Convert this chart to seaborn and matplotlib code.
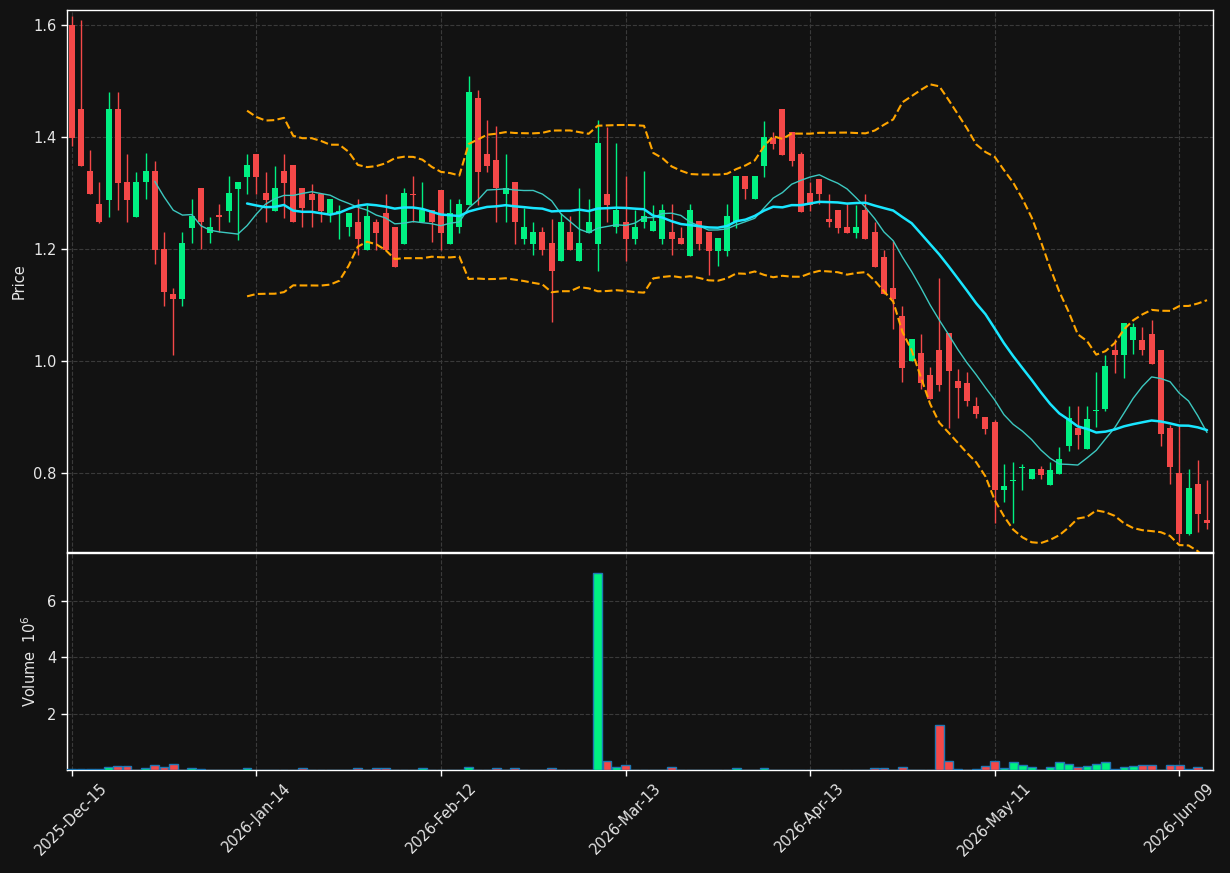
import numpy as np
import pandas as pd
import matplotlib
matplotlib.use("Agg")
import matplotlib.pyplot as plt
import seaborn as sns

# ---------------- data ----------------
tick_labels = ["2025-Dec-15", "2026-Jan-14", "2026-Feb-12", "2026-Mar-13",
               "2026-Apr-13", "2026-May-11", "2026-Jun-09"]
holidays = ["2025-12-25", "2026-01-01", "2026-01-19", "2026-02-16",
            "2026-04-03", "2026-05-25"]

opens = [1.600, 1.450, 1.339, 1.280, 1.288, 1.450, 1.319, 1.258, 1.319, 1.339,
         1.200, 1.120, 1.110, 1.238, 1.309, 1.229, 1.259, 1.268, 1.308, 1.329,
         1.370, 1.300, 1.268, 1.339, 1.350, 1.309, 1.299, 1.299, 1.264, 1.264,
         1.239, 1.249, 1.199, 1.249, 1.264, 1.239, 1.209, 1.299, 1.249, 1.269,
         1.305, 1.209, 1.239, 1.279, 1.470, 1.370, 1.359, 1.299, 1.320, 1.218,
         1.209, 1.230, 1.211, 1.179, 1.230, 1.179, 1.229, 1.209, 1.299, 1.239,
         1.249, 1.218, 1.249, 1.233, 1.218, 1.230, 1.220, 1.188, 1.250, 1.230,
         1.197, 1.197, 1.249, 1.330, 1.289, 1.349, 1.398, 1.450, 1.409, 1.370,
         1.300, 1.325, 1.254, 1.270, 1.239, 1.229, 1.270, 1.230, 1.186, 1.130,
         1.080, 1.000, 1.014, 0.975, 1.020, 1.050, 0.965, 0.961, 0.920, 0.900,
         0.891, 0.769, 0.785, 0.809, 0.789, 0.807, 0.779, 0.799, 0.848, 0.880,
         0.843, 0.911, 0.914, 1.020, 1.010, 1.038, 1.038, 1.049, 1.020, 0.880,
         0.800, 0.691, 0.780, 0.716]
highs = [1.616, 1.609, 1.377, 1.319, 1.480, 1.480, 1.369, 1.338, 1.371, 1.358,
         1.230, 1.130, 1.230, 1.289, 1.309, 1.257, 1.280, 1.330, 1.319, 1.369,
         1.370, 1.337, 1.349, 1.369, 1.350, 1.309, 1.317, 1.299, 1.289, 1.279,
         1.265, 1.289, 1.279, 1.253, 1.299, 1.239, 1.309, 1.330, 1.319, 1.269,
         1.305, 1.289, 1.289, 1.509, 1.485, 1.430, 1.420, 1.369, 1.320, 1.274,
         1.249, 1.239, 1.253, 1.265, 1.259, 1.309, 1.289, 1.430, 1.418, 1.389,
         1.330, 1.270, 1.339, 1.279, 1.280, 1.280, 1.239, 1.280, 1.250, 1.230,
         1.220, 1.280, 1.330, 1.330, 1.330, 1.428, 1.409, 1.450, 1.409, 1.374,
         1.320, 1.325, 1.299, 1.270, 1.280, 1.279, 1.299, 1.249, 1.198, 1.215,
         1.099, 1.039, 1.049, 0.989, 1.148, 1.050, 0.985, 0.980, 0.936, 0.900,
         0.894, 0.817, 0.820, 0.817, 0.807, 0.812, 0.819, 0.846, 0.920, 0.920,
         0.920, 0.980, 1.010, 1.039, 1.068, 1.068, 1.060, 1.074, 1.020, 0.886,
         0.886, 0.808, 0.824, 0.788]
lows = [1.384, 1.349, 1.299, 1.247, 1.258, 1.269, 1.249, 1.258, 1.289, 1.174,
        1.099, 1.011, 1.098, 1.210, 1.200, 1.210, 1.231, 1.249, 1.216, 1.299,
        1.299, 1.249, 1.268, 1.255, 1.249, 1.239, 1.239, 1.249, 1.249, 1.218,
        1.224, 1.189, 1.199, 1.199, 1.199, 1.168, 1.209, 1.249, 1.249, 1.213,
        1.199, 1.209, 1.229, 1.279, 1.279, 1.338, 1.249, 1.249, 1.209, 1.209,
        1.189, 1.189, 1.069, 1.179, 1.199, 1.179, 1.229, 1.160, 1.249, 1.229,
        1.179, 1.209, 1.238, 1.233, 1.209, 1.189, 1.209, 1.188, 1.199, 1.154,
        1.169, 1.188, 1.238, 1.289, 1.289, 1.329, 1.379, 1.368, 1.349, 1.267,
        1.268, 1.280, 1.239, 1.229, 1.229, 1.219, 1.218, 1.168, 1.120, 1.058,
        0.962, 1.000, 0.951, 0.932, 0.946, 0.880, 0.899, 0.919, 0.899, 0.870,
        0.710, 0.749, 0.710, 0.770, 0.789, 0.790, 0.779, 0.799, 0.840, 0.843,
        0.843, 0.882, 0.910, 0.978, 0.969, 1.012, 1.010, 0.994, 0.849, 0.780,
        0.677, 0.690, 0.694, 0.700]
closes = [1.399, 1.349, 1.299, 1.249, 1.450, 1.318, 1.288, 1.319, 1.339, 1.199,
          1.124, 1.110, 1.211, 1.259, 1.249, 1.239, 1.258, 1.300, 1.319, 1.350,
          1.329, 1.288, 1.309, 1.318, 1.249, 1.274, 1.288, 1.268, 1.289, 1.268,
          1.265, 1.218, 1.259, 1.229, 1.199, 1.168, 1.300, 1.297, 1.269, 1.249,
          1.229, 1.264, 1.280, 1.480, 1.338, 1.349, 1.309, 1.309, 1.249, 1.239,
          1.230, 1.199, 1.160, 1.249, 1.199, 1.211, 1.249, 1.389, 1.279, 1.269,
          1.218, 1.240, 1.259, 1.250, 1.270, 1.218, 1.209, 1.270, 1.209, 1.197,
          1.220, 1.259, 1.330, 1.308, 1.330, 1.400, 1.388, 1.368, 1.358, 1.267,
          1.279, 1.299, 1.249, 1.238, 1.229, 1.239, 1.218, 1.168, 1.120, 1.110,
          0.988, 1.039, 0.960, 0.932, 0.957, 0.982, 0.952, 0.929, 0.906, 0.879,
          0.769, 0.777, 0.787, 0.810, 0.807, 0.796, 0.805, 0.825, 0.899, 0.868,
          0.896, 0.912, 0.991, 1.010, 1.068, 1.060, 1.019, 0.994, 0.870, 0.811,
          0.691, 0.773, 0.727, 0.711]
volumes_millions = [0.04, 0.04, 0.04, 0.04, 0.09, 0.13, 0.13, 0.00, 0.06, 0.17,
                    0.09, 0.20, 0.01, 0.06, 0.02, 0.01, 0.01, 0.01, 0.01, 0.06,
                    0.00, 0.01, 0.01, 0.01, 0.00, 0.06, 0.01, 0.01, 0.01, 0.01,
                    0.01, 0.06, 0.01, 0.06, 0.06, 0.01, 0.01, 0.00, 0.06, 0.01,
                    0.00, 0.00, 0.01, 0.09, 0.01, 0.00, 0.06, 0.01, 0.06, 0.01,
                    0.01, 0.00, 0.06, 0.00, 0.00, 0.01, 0.01, 7.00, 0.32, 0.09,
                    0.17, 0.01, 0.01, 0.01, 0.01, 0.09, 0.01, 0.01, 0.01, 0.01,
                    0.01, 0.01, 0.06, 0.01, 0.01, 0.06, 0.00, 0.01, 0.00, 0.00,
                    0.00, 0.00, 0.00, 0.01, 0.01, 0.01, 0.01, 0.06, 0.06, 0.00,
                    0.09, 0.00, 0.00, 0.01, 1.59, 0.31, 0.05, 0.00, 0.05, 0.13,
                    0.31, 0.06, 0.27, 0.17, 0.09, 0.01, 0.09, 0.27, 0.20, 0.09,
                    0.13, 0.20, 0.27, 0.05, 0.09, 0.13, 0.17, 0.17, 0.01, 0.17,
                    0.17, 0.03, 0.09, 0.01]

# ---------------- style ----------------
BG = "#121212"
UP = "#00F082"
DOWN = "#F44848"
FG = "#E6E6E6"
GRID = "#3A3A3A"

sns.set_theme(style="dark", rc={
    "figure.facecolor": BG, "axes.facecolor": BG, "axes.edgecolor": "white",
    "axes.labelcolor": FG, "xtick.color": FG, "ytick.color": FG,
    "text.color": FG, "grid.color": GRID, "grid.linestyle": "--",
    "grid.linewidth": 0.8, "axes.grid": True,
    "xtick.bottom": True, "ytick.left": True,
})
plt.rcParams["font.family"] = ["DejaVu Sans"]

df = pd.DataFrame({"open": opens, "high": highs, "low": lows,
                   "close": closes, "volume": volumes_millions})
df["date"] = pd.bdate_range("2025-12-15", periods=len(df), freq="C",
                            holidays=holidays)
df["idx"] = np.arange(len(df))
df["ma10"] = df["close"].rolling(10).mean()
df["ma20"] = df["close"].rolling(20).mean()
std20 = df["close"].rolling(20).std()
df["bb_up"] = df["ma20"] + 2 * std20
df["bb_lo"] = df["ma20"] - 2 * std20
df["up"] = df["close"] >= df["open"]
colors = np.where(df["up"], UP, DOWN)

W, H = 1230, 873
fig = plt.figure(figsize=(W / 100, H / 100), dpi=100)
left, right = 67 / W, 1213 / W
ax = fig.add_axes([left, 1 - 552 / H, right - left, (552 - 10) / H])
axv = fig.add_axes([left, 1 - 770 / H, right - left, (770 - 553) / H], sharex=ax)

# candles
ax.vlines(df["idx"], df["low"], df["high"], colors=colors, linewidth=1.0, zorder=3)
body_lo = np.minimum(df["open"], df["close"])
body_h = np.maximum(np.abs(df["close"] - df["open"]), 0.002)
ax.bar(df["idx"], body_h, bottom=body_lo, width=0.65, color=colors,
       linewidth=0, zorder=4)

# moving averages and bollinger bands
sns.lineplot(data=df, x="idx", y="ma10", ax=ax, color="#3CC8C0", linewidth=1.0, zorder=5)
sns.lineplot(data=df, x="idx", y="ma20", ax=ax, color="#19E6FF", linewidth=1.8, zorder=5)
sns.lineplot(data=df, x="idx", y="bb_up", ax=ax, color="#FFA500", linewidth=1.5,
             linestyle="--", zorder=5)
sns.lineplot(data=df, x="idx", y="bb_lo", ax=ax, color="#FFA500", linewidth=1.5,
             linestyle="--", zorder=5)

# volume
axv.bar(df["idx"], df["volume"], width=0.95, color=colors, edgecolor="#1F77B4",
        linewidth=1.0, zorder=3)

# axes
ax.set_xlim(-0.51, 123.65)
ax.set_ylim(0.659, 1.627)
axv.set_ylim(0, 7.71)
ax.set_yticks([0.8, 1.0, 1.2, 1.4, 1.6])
ax.set_yticklabels(["0.8", "1.0", "1.2", "1.4", "1.6"])
axv.set_yticks([2, 4, 6])
axv.set_yticklabels(["2", "4", "6"])

tick_dates = pd.to_datetime(tick_labels, format="%Y-%b-%d")
tick_pos = df.set_index("date")["idx"].reindex(tick_dates).values
axv.set_xticks(tick_pos)
axv.set_xticklabels(tick_labels, rotation=45, ha="center", fontsize=10.5)
ax.tick_params(axis="x", labelbottom=False, bottom=False)

for a in (ax, axv):
    a.grid(True, color=GRID, linestyle="--", linewidth=0.8)
    a.set_axisbelow(True)
    a.tick_params(axis="both", labelsize=10.5, length=4, width=1, color="white",
                  direction="out")
    for s in a.spines.values():
        s.set_color("white")
        s.set_linewidth(1.0)
    a.set_xlabel("")

ax.set_ylabel("Price", fontsize=10.5, labelpad=5)
axv.set_ylabel("Volume  $10^{6}$", fontsize=10.5, labelpad=6)

fig.savefig("out.png", dpi=100, facecolor=BG)
